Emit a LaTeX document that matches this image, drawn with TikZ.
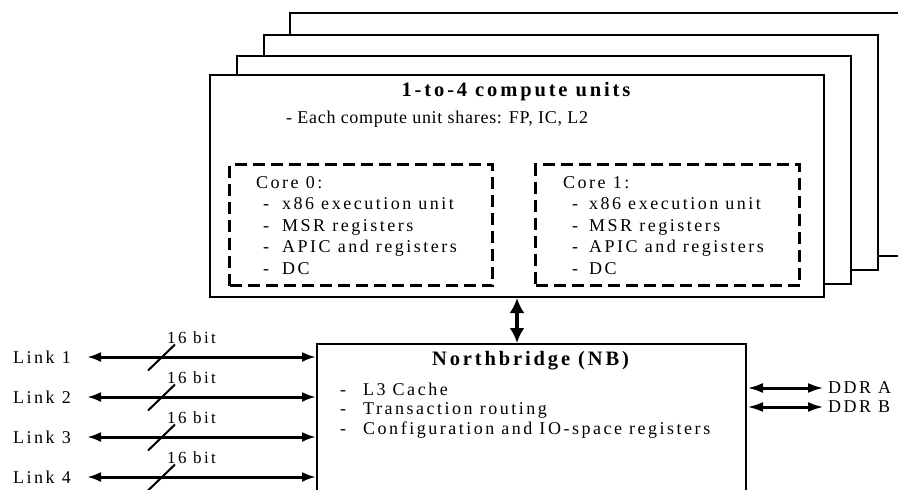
\documentclass[tikz,border=0pt]{standalone}
\usepackage{fontspec}
\setmainfont{Liberation Serif}
\newfontfamily\spaced{Liberation Serif}[LetterSpace=14]
\newfontfamily\narrowsp{Liberation Serif}[LetterSpace=4]
\usetikzlibrary{arrows.meta}

\begin{document}
\begin{tikzpicture}[x=1pt,y=-1pt,
  frame/.style={draw, line width=2pt, fill=white, inner sep=0pt, anchor=north west},
  corebox/.style={draw, line width=3pt, dash pattern=on 12pt off 6pt, inner sep=0pt, anchor=north west},
  txt/.style={inner sep=0pt, anchor=base west, font=\spaced\fontsize{18}{21}\selectfont},
  head/.style={inner sep=0pt, anchor=base, font=\spaced\bfseries\fontsize{20.5}{23}\selectfont},
  lbl/.style={inner sep=0pt, anchor=west, font=\spaced\fontsize{18}{21}\selectfont},
  bits/.style={inner sep=0pt, anchor=base west, font=\spaced\fontsize{17}{20}\selectfont},
  bus/.style={line width=3pt, {Latex[length=14pt,width=10pt]}-{Latex[length=14pt,width=10pt]}},
  vbus/.style={line width=3.5pt, {Latex[length=15pt,width=15pt]}-{Latex[length=15pt,width=15pt]}},
  ddrbus/.style={line width=3pt, {Latex[length=16pt,width=10pt]}-{Latex[length=16pt,width=10pt]}},
  slash/.style={line width=2pt}]

\path[use as bounding box] (0,0) rectangle (898,490);
\clip (0,0) rectangle (898,490);

% stack of compute units, back to front
\node[frame, minimum width=640pt, minimum height=243pt] (cu4) at (289,12) {};
\node[frame, minimum width=614pt, minimum height=235pt] (cu3) at (263,34) {};
\node[frame, minimum width=614pt, minimum height=228pt] (cu2) at (236,55) {};
\node[frame, minimum width=614pt, minimum height=222pt] (cu) at (209,74) {};

\node[head] (cutitle) at (516,96.7) {1-to-4 compute units};
\node[txt, font=\narrowsp\fontsize{18}{21}\selectfont] (share) at (286,123) {- Each compute unit shares: FP, IC, L2};

% the two cores
\node[corebox, minimum width=263pt, minimum height=121pt] (core0) at (228,163) {};
\node[corebox, minimum width=264pt, minimum height=121pt] (core1) at (534,163) {};

\node[txt] (c0h) at (256,188) {Core 0:};
\node[txt] (c1h) at (563,188) {Core 1:};
\foreach \t [count=\i] in {x86 execution unit, MSR registers, APIC and registers, DC}{
  \pgfmathsetmacro{\yy}{188+21.5*\i}
  \node[txt] (c0d\i) at (263,\yy) {-};
  \node[txt] (c0i\i) at (282,\yy) {\t};
  \node[txt] (c1d\i) at (572,\yy) {-};
  \node[txt] (c1i\i) at (589,\yy) {\t};
}

% northbridge
\node[frame, minimum width=429pt, minimum height=200pt] (nb) at (316,343) {};
\node[head] (nbtitle) at (530.5,365) {Northbridge (NB)};
\foreach \t/\yy [count=\i] in {L3 Cache/395, Transaction routing/414.5, Configuration and IO-space registers/434}{
  \node[txt] (nbd\i) at (340,\yy) {-};
  \node[txt] (nbi\i) at (363,\yy) {\t};
}

\draw[vbus] (cu.south) -- (cu.south |- nb.north);

% HyperTransport links
\coordinate (linkx) at (87,0);
\coordinate (slx) at (161.5,0);
\coordinate (bitx) at (167,0);
\foreach \yy [count=\i] in {357,397,437,477}{
  \node[lbl] (lk\i) at (13,\yy) {Link \i};
  \draw[bus] (lk\i.west -| linkx) -- (lk\i.west -| nb.west);
  \draw[slash] (lk\i.west -| slx) ++(-13.5,13.5) -- ++(27,-26);
  \node[bits] (bw\i) at ([yshift=13.7pt]lk\i.west -| bitx) {16 bit};
}

% memory channels
\node[lbl] (ddra) at (828,388) {DDR A};
\node[lbl] (ddrb) at (828,407) {DDR B};
\draw[ddrbus] (ddra.west -| nb.east) -- ([xshift=-4pt]ddra.west);
\draw[ddrbus] (ddrb.west -| nb.east) -- ([xshift=-4pt]ddrb.west);
\end{tikzpicture}
\end{document}
